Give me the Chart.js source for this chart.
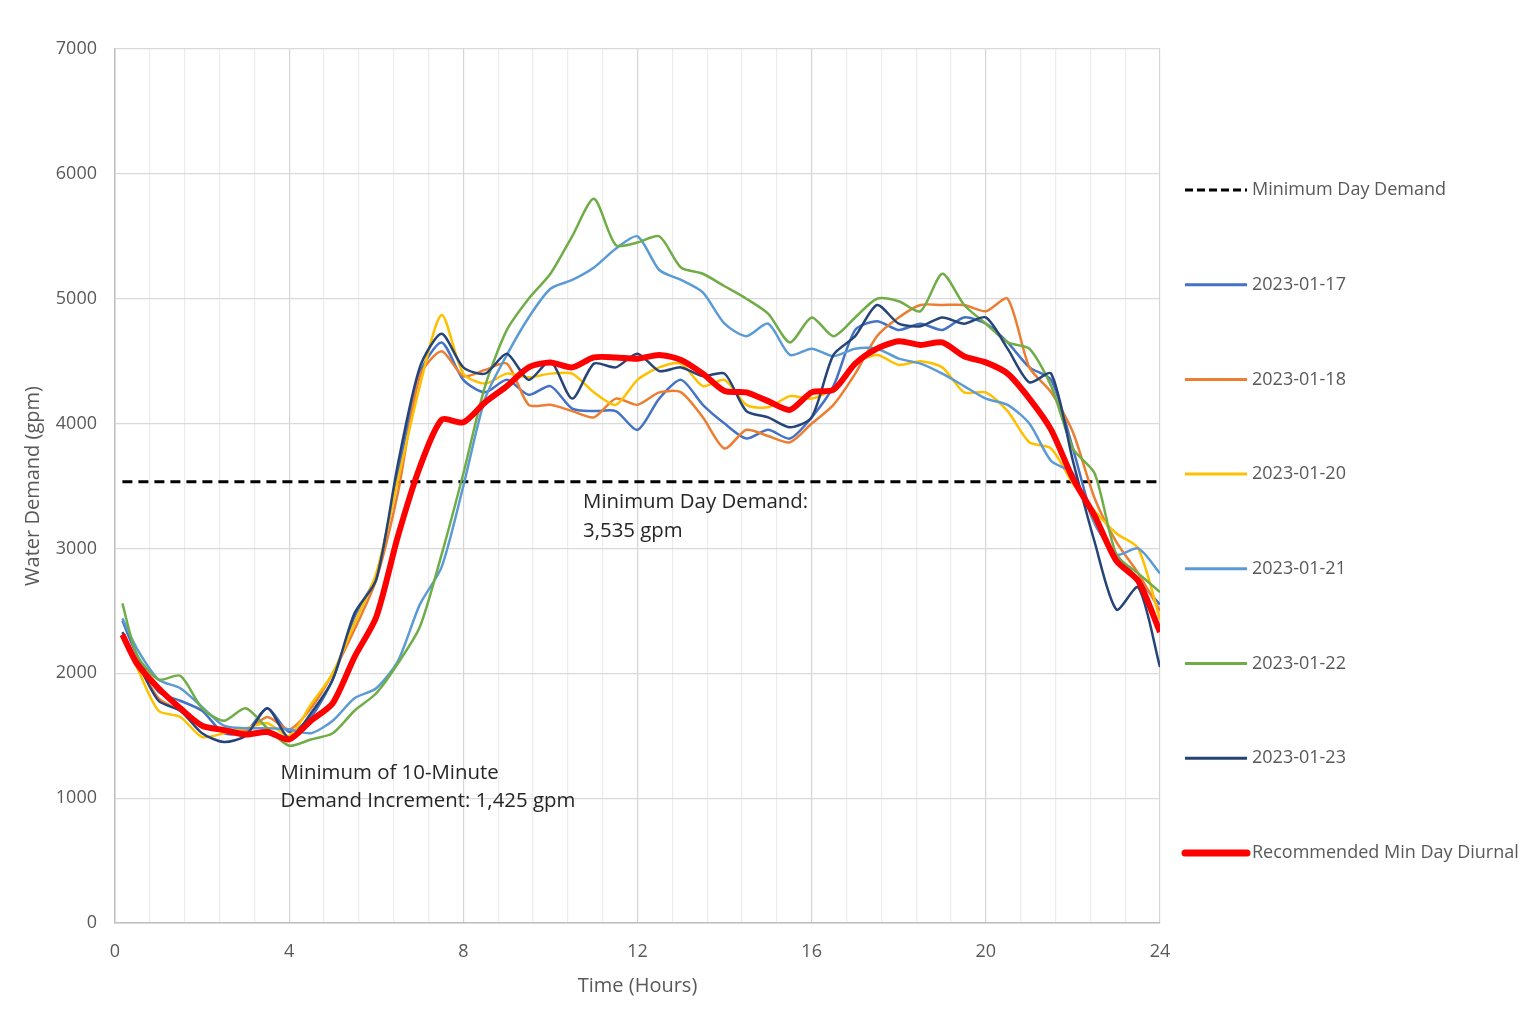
<!DOCTYPE html>
<html>
<head>
<meta charset="utf-8">
<title>Min Day Diurnal</title>
<script src="https://cdn.jsdelivr.net/npm/chart.js@4.4.0/dist/chart.umd.min.js"></script>
<style>
  html, body { margin: 0; padding: 0; background: #fff; }
  #wrap { position: relative; width: 1537px; height: 1030px; }
</style>
</head>
<body>
<div id="wrap"><canvas id="diurnalChart"></canvas></div>
<script>
// time of day (hours)
const hours = [0.17, 0.5, 1, 1.5, 2, 2.5, 3, 3.5, 4, 4.5, 5, 5.5, 6, 6.5, 7, 7.5, 8, 8.5, 9, 9.5,
  10, 10.5, 11, 11.5, 12, 12.5, 13, 13.5, 14, 14.5, 15, 15.5, 16, 16.5, 17, 17.5, 18, 18.5, 19, 19.5,
  20, 20.5, 21, 21.5, 22, 22.5, 23, 23.5, 24];

// water demand (gpm) per day
const demand0117 = [2420, 2150, 1850, 1780, 1700, 1520, 1530, 1720, 1530, 1650, 1950, 2450, 2780, 3600, 4400, 4650, 4350, 4250, 4350, 4230,
  4300, 4120, 4100, 4100, 3950, 4200, 4350, 4150, 4000, 3880, 3950, 3880, 4050, 4300, 4750, 4820, 4750, 4800, 4750, 4850,
  4800, 4650, 4450, 4350, 3800, 3200, 2950, 2750, 2550];
const demand0118 = [2300, 2100, 1800, 1700, 1570, 1560, 1540, 1650, 1550, 1720, 2000, 2350, 2750, 3450, 4380, 4580, 4380, 4430, 4480, 4150,
  4150, 4100, 4050, 4200, 4150, 4250, 4250, 4050, 3800, 3950, 3900, 3850, 4000, 4150, 4400, 4700, 4850, 4950, 4950, 4950,
  4900, 5000, 4450, 4250, 3930, 3400, 3050, 2800, 2500];
const demand0120 = [2280, 2050, 1700, 1650, 1490, 1520, 1560, 1600, 1500, 1750, 2000, 2400, 2800, 3550, 4300, 4870, 4400, 4320, 4400, 4370,
  4400, 4400, 4250, 4150, 4350, 4450, 4480, 4300, 4350, 4150, 4130, 4220, 4200, 4280, 4480, 4550, 4470, 4500, 4450, 4250,
  4250, 4100, 3850, 3800, 3520, 3300, 3120, 3000, 2430];
const demand0121 = [2440, 2200, 1950, 1880, 1730, 1580, 1560, 1560, 1550, 1520, 1620, 1800, 1880, 2100, 2550, 2850, 3500, 4200, 4550, 4850,
  5080, 5150, 5250, 5400, 5500, 5230, 5150, 5050, 4800, 4700, 4800, 4550, 4600, 4540, 4600, 4600, 4520, 4480, 4400, 4300,
  4200, 4150, 4000, 3700, 3600, 3200, 2950, 3000, 2800];
const demand0122 = [2560, 2150, 1950, 1980, 1720, 1620, 1720, 1560, 1420, 1470, 1520, 1700, 1840, 2080, 2370, 2950, 3600, 4300, 4750, 5000,
  5200, 5500, 5800, 5430, 5450, 5500, 5250, 5200, 5100, 5000, 4880, 4650, 4850, 4700, 4850, 5000, 4980, 4900, 5200, 4950,
  4800, 4650, 4600, 4300, 3800, 3600, 2950, 2800, 2650];
const demand0123 = [2330, 2100, 1780, 1700, 1520, 1450, 1500, 1720, 1480, 1680, 1950, 2480, 2750, 3680, 4450, 4720, 4450, 4400, 4560, 4350,
  4500, 4200, 4480, 4450, 4560, 4420, 4450, 4380, 4400, 4100, 4050, 3970, 4050, 4550, 4700, 4950, 4800, 4780, 4850, 4800,
  4850, 4600, 4330, 4400, 3700, 3050, 2510, 2690, 2050];
const recommended = [2310, 2080, 1880, 1720, 1580, 1545, 1510, 1530, 1470, 1620, 1760, 2130, 2450, 3100, 3650, 4030, 4010, 4170, 4300, 4450,
  4490, 4450, 4530, 4530, 4520, 4550, 4510, 4400, 4260, 4250, 4180, 4110, 4250, 4270, 4480, 4600, 4660, 4630, 4650, 4540,
  4490, 4400, 4200, 3950, 3560, 3260, 2900, 2740, 2330];

const minDayDemand = 3535;
const xLabelHours = [0, 4, 8, 12, 16, 20, 24];

const seriesNames = ['2023-01-17', '2023-01-18', '2023-01-20', '2023-01-21', '2023-01-22', '2023-01-23'];
const seriesValues = [demand0117, demand0118, demand0120, demand0121, demand0122, demand0123];
const seriesColors = ['#4472C4', '#ED7D31', '#FFC000', '#5B9BD5', '#70AD47', '#264478'];

const FONT = '"Open Sans", "Noto Sans", sans-serif';
const GREY = '#595959';

function toPoints(values) {
  return values.map((v, i) => ({ x: hours[i], y: v }));
}

const datasets = [{
  label: 'Minimum Day Demand',
  data: [{ x: hours[0], y: minDayDemand }, { x: hours[hours.length - 1], y: minDayDemand }],
  borderColor: '#000',
  borderWidth: 3,
  borderDash: [10, 6],
  pointRadius: 0,
  order: 8
}];

seriesNames.forEach((name, i) => {
  datasets.push({
    label: name,
    data: toPoints(seriesValues[i]),
    borderColor: seriesColors[i],
    borderWidth: 2.5,
    pointRadius: 0,
    tension: 0.25,
    order: 7 - i
  });
});

datasets.push({
  label: 'Recommended Min Day Diurnal',
  data: toPoints(recommended),
  borderColor: '#FF0000',
  borderWidth: 6,
  pointRadius: 0,
  tension: 0.25,
  order: 0
});

// legend on the right, one entry per dataset, wide spacing like the original
const sideLegend = {
  id: 'sideLegend',
  afterDraw(chart) {
    const { ctx, chartArea } = chart;
    const lineX0 = chartArea.right + 25;
    const lineX1 = chartArea.right + 87;
    const textX = chartArea.right + 92;
    ctx.save();
    ctx.font = '18px ' + FONT;
    ctx.textBaseline = 'middle';
    ctx.fillStyle = GREY;
    chart.data.datasets.forEach((ds, i) => {
      const y = chartArea.top + 141 + i * 94.7;
      ctx.beginPath();
      ctx.strokeStyle = ds.borderColor;
      ctx.lineWidth = ds.label.startsWith('Recommended') ? 7 : 3;
      ctx.lineCap = ds.label.startsWith('Recommended') ? 'round' : 'butt';
      ctx.setLineDash(ds.borderDash ? [8, 4] : []);
      ctx.moveTo(lineX0, y);
      ctx.lineTo(lineX1, y);
      ctx.stroke();
      ctx.fillText(ds.label, textX, y);
    });
    ctx.restore();
  }
};

// text notes inside the plot
const notes = {
  id: 'notes',
  afterDatasetsDraw(chart) {
    const { ctx, scales: { x, y } } = chart;
    ctx.save();
    ctx.font = '20.4px ' + FONT;
    ctx.fillStyle = '#262626';
    ctx.textBaseline = 'middle';
    let px = x.getPixelForValue(10.75), py = y.getPixelForValue(3370);
    ctx.fillText('Minimum Day Demand:', px, py);
    ctx.fillText('3,535 gpm', px, py + 29);
    px = x.getPixelForValue(3.8); py = y.getPixelForValue(1200);
    ctx.fillText('Minimum of 10-Minute', px, py);
    ctx.fillText('Demand Increment: 1,425 gpm', px, py + 28);
    ctx.restore();
  }
};

const isMajor = v => xLabelHours.some(h => Math.abs(h - v) < 1e-6);

new Chart(document.getElementById('diurnalChart'), {
  type: 'line',
  data: { datasets },
  options: {
    responsive: true,
    maintainAspectRatio: false,
    animation: false,
    layout: { padding: { top: 49, right: 377, left: 0, bottom: 0 } },
    plugins: {
      legend: { display: false },
      tooltip: { enabled: false }
    },
    scales: {
      x: {
        type: 'linear',
        min: 0,
        max: 24,
        ticks: {
          stepSize: 0.8,
          autoSkip: false,
          maxRotation: 0,
          padding: 18,
          color: GREY,
          font: { family: FONT, size: 18 },
          callback: v => isMajor(v) ? String(Math.round(v)) : ''
        },
        grid: {
          drawTicks: false,
          color: ctx => isMajor(ctx.tick.value) ? '#d4d4d4' : '#ececec',
          lineWidth: 1.2
        },
        border: { color: '#bfbfbf', width: 1.5 },
        title: {
          display: true,
          text: 'Time (Hours)',
          color: GREY,
          font: { family: FONT, size: 20 },
          padding: { top: 0, bottom: 32 }
        },
        afterFit: axis => { axis.height = 107; }
      },
      y: {
        min: 0,
        max: 7000,
        ticks: {
          stepSize: 1000,
          padding: 18,
          color: GREY,
          font: { family: FONT, size: 18 },
          callback: v => String(v)
        },
        grid: { drawTicks: false, color: '#d9d9d9', lineWidth: 1.2 },
        border: { color: '#bfbfbf', width: 1.5 },
        title: {
          display: true,
          text: 'Water Demand (gpm)',
          color: GREY,
          font: { family: FONT, size: 20 },
          padding: { top: 21, bottom: 0 }
        },
        afterFit: axis => { axis.width = 115; }
      }
    }
  },
  plugins: [sideLegend, notes]
});
</script>
</body>
</html>
